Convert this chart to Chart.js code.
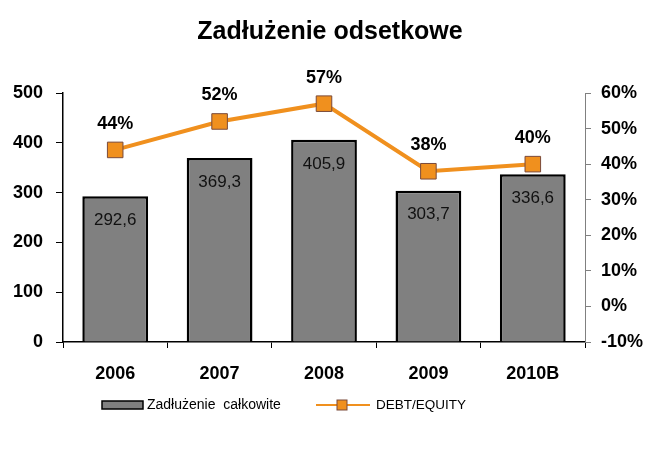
<!DOCTYPE html>
<html>
<head>
<meta charset="utf-8">
<script src="https://cdn.jsdelivr.net/npm/chart.js@4"></script>
<style>
  body { margin: 0; background: #fff; }
  #wrap { width: 660px; height: 460px; }
</style>
</head>
<body>
<div id="wrap"><canvas id="chart" width="660" height="460"></canvas></div>
<script>
// dane z wykresu
const years = ['2006', '2007', '2008', '2009', '2010B'];
const debtTotal = [292.6, 369.3, 405.9, 303.7, 336.6];
const debtEquity = [44, 52, 57, 38, 40];
const leftTicks = [0, 100, 200, 300, 400, 500];
const rightTicks = [-10, 0, 10, 20, 30, 40, 50, 60];

const FONT = '"Liberation Sans", Arial, sans-serif';
const ORANGE = '#F0901E';

// etykiety wartości (bez pluginu datalabels)
const valueLabels = {
    id: 'valueLabels',
    afterDatasetsDraw(chart) {
        const ctx = chart.ctx;
        ctx.save();
        ctx.textAlign = 'center';
        ctx.textBaseline = 'middle';
        // dataset 1 = słupki, dataset 0 = linia
        chart.getDatasetMeta(1).data.forEach((bar, i) => {
            ctx.font = '17px ' + FONT;
            ctx.fillStyle = '#111';
            ctx.fillText(debtTotal[i].toFixed(1).replace('.', ','), bar.x, bar.y + 24);
        });
        chart.getDatasetMeta(0).data.forEach((pt, i) => {
            ctx.font = 'bold 18px ' + FONT;
            ctx.fillStyle = '#000';
            ctx.fillText(debtEquity[i] + '%', pt.x, pt.y - 26);
        });
        ctx.restore();
    }
};

// tytuł + legenda rysowane ręcznie
const decor = {
    id: 'decor',
    afterDraw(chart) {
        const ctx = chart.ctx;
        ctx.save();
        ctx.fillStyle = '#000';
        ctx.textAlign = 'center';
        ctx.textBaseline = 'middle';
        ctx.font = 'bold 25px ' + FONT;
        ctx.fillText('Zadłużenie odsetkowe', 330, 32);

        // legenda - słupki
        ctx.fillStyle = '#808080';
        ctx.strokeStyle = '#000';
        ctx.lineWidth = 1.5;
        ctx.fillRect(102, 401, 41, 8);
        ctx.strokeRect(102, 401, 41, 8);
        ctx.fillStyle = '#000';
        ctx.textAlign = 'left';
        ctx.font = '14px ' + FONT;
        ctx.fillText('Zadłużenie  całkowite', 147, 405);

        // legenda - linia
        ctx.strokeStyle = ORANGE;
        ctx.lineWidth = 2;
        ctx.beginPath();
        ctx.moveTo(316, 405);
        ctx.lineTo(370, 405);
        ctx.stroke();
        ctx.fillStyle = ORANGE;
        ctx.fillRect(337, 400, 10, 10);
        ctx.strokeStyle = '#7a4a3a';
        ctx.lineWidth = 1;
        ctx.strokeRect(337, 400, 10, 10);
        ctx.fillStyle = '#000';
        ctx.font = '13.5px ' + FONT;
        ctx.fillText('DEBT/EQUITY', 376, 405);
        ctx.restore();
    }
};

new Chart(document.getElementById('chart'), {
    data: {
        labels: years,
        datasets: [
            {
                type: 'line',
                label: 'DEBT/EQUITY',
                data: debtEquity,
                yAxisID: 'y1',
                borderColor: ORANGE,
                borderWidth: 4,
                pointStyle: 'rect',
                pointRadius: 11,
                pointBackgroundColor: ORANGE,
                pointBorderColor: '#7a4a3a',
                pointBorderWidth: 1,
                order: 0
            },
            {
                type: 'bar',
                label: 'Zadłużenie  całkowite',
                data: debtTotal,
                yAxisID: 'y',
                backgroundColor: '#808080',
                borderColor: '#000',
                borderWidth: 2.5,
                barPercentage: 0.63,
                categoryPercentage: 1,
                order: 1
            }
        ]
    },
    options: {
        responsive: false,
        animation: false,
        layout: { padding: { top: 93, bottom: 75, left: 0, right: 0 } },
        plugins: {
            legend: { display: false },
            title: { display: false },
            tooltip: { enabled: false }
        },
        scales: {
            x: {
                grid: { offset: true, drawOnChartArea: false, color: '#000', tickLength: 6 },
                border: { color: '#000', width: 1.5 },
                afterFit: axis => { axis.height = 43; },
                ticks: { color: '#000', font: { family: FONT, size: 18, weight: 'bold' }, padding: 15 }
            },
            y: {
                position: 'left',
                min: 0, max: 500,
                afterBuildTicks: axis => { axis.ticks = leftTicks.map(v => ({ value: v })); },
                afterFit: axis => { axis.width = 63; },
                grid: { drawOnChartArea: false, color: '#000', tickLength: 7 },
                border: { color: '#000', width: 1.5 },
                ticks: { color: '#000', font: { family: FONT, size: 18, weight: 'bold' }, padding: 13 }
            },
            y1: {
                position: 'right',
                min: -10, max: 60,
                afterBuildTicks: axis => { axis.ticks = rightTicks.map(v => ({ value: v })); },
                afterFit: axis => { axis.width = 75; },
                grid: { drawOnChartArea: false, color: '#808080', tickLength: 6 },
                border: { color: '#808080', width: 1 },
                ticks: {
                    color: '#000', font: { family: FONT, size: 18, weight: 'bold' }, padding: 10,
                    callback: v => v + '%'
                }
            }
        }
    },
    plugins: [valueLabels, decor]
});
</script>
</body>
</html>
